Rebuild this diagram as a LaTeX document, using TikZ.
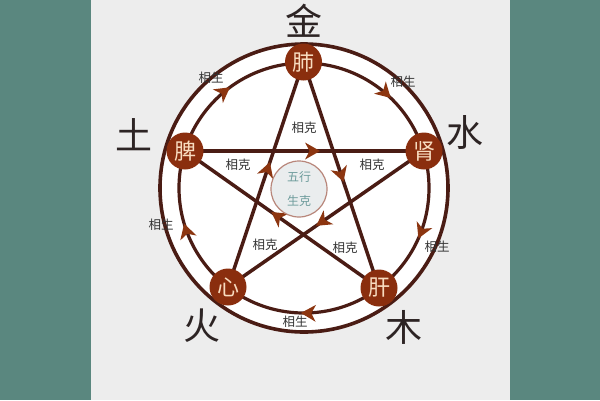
\documentclass[tikz,border=0pt]{standalone}
\usepackage{fontspec}
\setmainfont{Noto Sans CJK SC}
\usetikzlibrary{arrows.meta,decorations.markings}
\definecolor{bgteal}{HTML}{5A877F}
\definecolor{panel}{HTML}{EDEDED}
\definecolor{ringc}{HTML}{4A1C14}
\definecolor{arrowc}{HTML}{8C3510}
\definecolor{organc}{HTML}{8A2E0E}
\definecolor{organt}{HTML}{F8DCC0}
\definecolor{labelc}{HTML}{333333}
\definecolor{elemc}{HTML}{2D2424}
\definecolor{hubfill}{HTML}{EAEDEE}
\definecolor{hubdraw}{HTML}{B8867A}
\definecolor{hubtext}{HTML}{6E9C9C}
\pgfdeclarelayer{l0}
\pgfdeclarelayer{l1}
\pgfsetlayers{l0,l1,main}
\tikzset{
  tipA/.tip={Stealth[length=15pt,width=17pt,inset=4.5pt,line width=0pt,color=arrowc]},
  organ/.style={circle, fill=organc, text=organt, minimum size=37pt, inner sep=0pt, font=\fontsize{22}{22}\selectfont},
  elem/.style={text=elemc, font=\fontsize{37}{37}\selectfont, inner sep=0pt},
  lbl/.style={text=labelc, font=\fontsize{12.5}{12.5}\selectfont, inner sep=0pt},
  starline/.style={draw=ringc, line width=3.5pt},
  kemark/.style={postaction=decorate, decoration={markings, mark=at position #1 with {\arrow{tipA}}}}
}
\begin{document}
\begin{tikzpicture}[x=1pt,y=-1pt]
\useasboundingbox (0,0) rectangle (600,400);
\begin{pgfonlayer}{l0}
\fill[bgteal] (0,0) rectangle (600,400);
\fill[panel] (91,0) rectangle (510,400);
\coordinate (C) at (304,188);
\fill[white] (C) circle (144);
\draw[draw=ringc, line width=3.6pt] (C) circle (144);
\draw[draw=ringc, line width=3.2pt, postaction=decorate,
  decoration={markings,
    mark=at position 0.066 with {\arrow{tipA}},
    mark=at position 0.254 with {\arrow{tipA}},
    mark=at position 0.454 with {\arrow{tipA}},
    mark=at position 0.649 with {\arrow{tipA}},
    mark=at position 0.872 with {\arrow{tipA}}}] (C) circle (125);
\end{pgfonlayer}

% organ nodes
\node[organ] (fei) at (303.5,62) {肺};
\node[organ] (shen) at (424,151) {肾};
\node[organ] (pi) at (185,151) {脾};
\node[organ] (gan) at (379,288) {肝};
\node[organ] (xin) at (228,287) {心};

% restraining (ke) star lines
\begin{pgfonlayer}{l1}
\draw[starline, kemark=0.565] (pi.center) -- (shen.center);
\draw[starline, kemark=0.53] (fei.center) -- (gan.center);
\draw[starline, kemark=0.555] (xin.center) -- (fei.center);
\draw[starline, kemark=0.555] (gan.center) -- (pi.center);
\draw[starline, kemark=0.55] (shen.center) -- (xin.center);
\end{pgfonlayer}

% hub
\node[circle, draw=hubdraw, fill=hubfill, line width=1.2pt, minimum size=56pt, inner sep=0pt] (hub) at (299,189) {};
\node[text=hubtext, font=\fontsize{12}{12}\selectfont, inner sep=0pt] (hub1) at (299,177) {五行};
\node[text=hubtext, font=\fontsize{12}{12}\selectfont, inner sep=0pt] (hub2) at (299,201) {生克};

% element characters
\node[elem] (jin) at (304,21) {金};
\node[elem] (tu) at (134,135) {土};
\node[elem] (shui) at (465,132) {水};
\node[elem] (huo) at (202,326) {火};
\node[elem] (mu) at (404,327) {木};

% sheng labels
\node[lbl] (s1) at (211,78) {相生};
\node[lbl] (s2) at (403,82) {相生};
\node[lbl] (s3) at (161,225) {相生};
\node[lbl] (s4) at (437,247) {相生};
\node[lbl] (s5) at (295,322) {相生};

% ke labels
\node[lbl] (k1) at (304,128) {相克};
\node[lbl] (k2) at (238,165) {相克};
\node[lbl] (k3) at (372,165) {相克};
\node[lbl] (k4) at (265,245) {相克};
\node[lbl] (k5) at (345,248) {相克};
\end{tikzpicture}
\end{document}
